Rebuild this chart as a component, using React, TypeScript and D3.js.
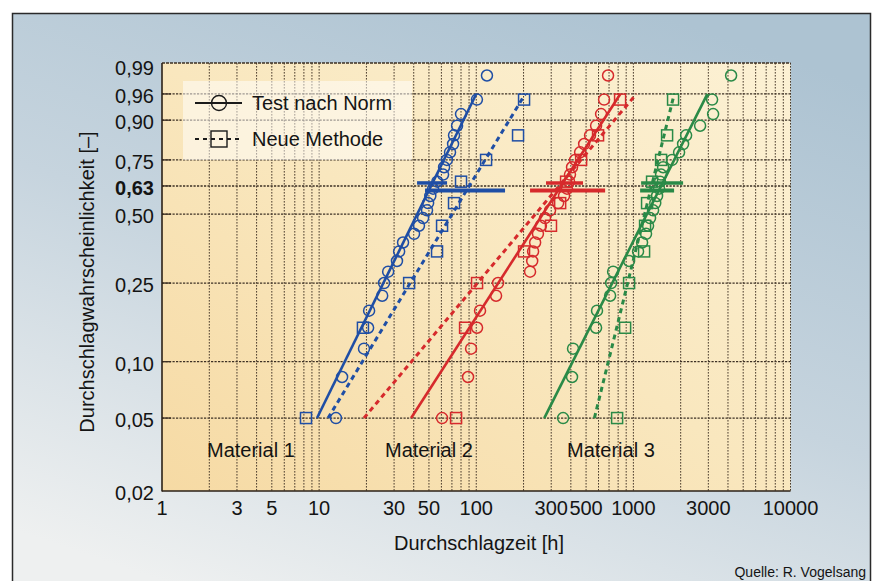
import React from 'react';
import * as d3 from 'd3';

// ---------- axis ticks ----------
const xTickValues = [1, 3, 5, 10, 30, 50, 100, 300, 500, 1000, 3000, 10000];
const xTickLabels = ['1', '3', '5', '10', '30', '50', '100', '300', '500', '1000', '3000', '10000'];
const yTickValues = [0.02, 0.05, 0.1, 0.25, 0.5, 0.63, 0.75, 0.9, 0.96, 0.99];
const yTickLabels = ['0,02', '0,05', '0,10', '0,25', '0,50', '0,63', '0,75', '0,90', '0,96', '0,99'];
const yGridValues = [0.05, 0.1, 0.25, 0.5, 0.63, 0.75, 0.9, 0.96];

// ---------- plotting positions (probability) ----------
const circleProb = [0.05, 0.083, 0.117, 0.15, 0.183, 0.217, 0.25, 0.283, 0.317, 0.35, 0.383, 0.417, 0.45, 0.483, 0.517, 0.55, 0.583, 0.617, 0.65, 0.683, 0.717, 0.75, 0.783, 0.817, 0.85, 0.883, 0.917, 0.95, 0.983];
const squareProb = [0.05, 0.15, 0.25, 0.35, 0.45, 0.55, 0.65, 0.75, 0.85, 0.95];

// ---------- breakdown times [h] ----------
const m1Circles = [12.8, 14.0, 19.3, 20.5, 20.8, 25.2, 25.9, 27.5, 31.3, 32.3, 34.2, 40.2, 43.2, 45.9, 48.6, 49.4, 51.0, 53.1, 56.5, 61.5, 62.4, 65.0, 68.1, 71.2, 72.2, 75.5, 80.0, 101, 117];
const m1Squares = [8.25, 19.0, 37.4, 56.3, 60.6, 72.2, 80.0, 115.5, 184.5, 201.5];
const m2Circles = [60.6, 88.7, 92.7, 101.2, 105.7, 133.7, 137.7, 220, 227, 230, 237, 247, 258, 274, 295, 332, 362, 378, 390, 395, 407, 426, 458, 486, 530, 579, 623, 651, 690];
const m2Squares = [74.4, 84.9, 101.2, 201.5, 299, 342, 373, 465, 596, 823];
const m3Circles = [357, 407, 413, 579, 587, 711, 722, 743, 939, 1071, 1136, 1204, 1240, 1277, 1335, 1378, 1415, 1457, 1479, 1501, 1546, 1763, 1954, 2072, 2166, 2659, 3217, 3170, 4188];
const m3Squares = [788, 886, 939, 1170, 1187, 1222, 1315, 1501, 1639, 1789];

// fitted Weibull lines: times at F = 0.05 and F = 0.96
const fitProb = [0.05, 0.96];
const m1SolidFit = [9.7, 100];
const m1DashedFit = [11.4, 205];
const m2SolidFit = [38.5, 826];
const m2DashedFit = [19.3, 1045];
const m3SolidFit = [271, 2960];
const m3DashedFit = [565, 1820];

// confidence bars at 63 %
const barProb = 0.63;
const m1SolidBar = [47.2, 152.5];
const m1DashedBar = [42.0, 65.2];
const m2SolidBar = [220, 661];
const m2DashedBar = [278, 478];
const m3SolidBar = [1104, 1816];
const m3DashedBar = [1120, 2072];

const materialLabels = ['Material 1', 'Material 2', 'Material 3'];
const legendLabels = ['Test nach Norm', 'Neue Methode'];

const BLUE = '#1f4ea5';
const RED = '#d62a2c';
const GREEN = '#2a8a47';

const series = [
  { color: BLUE, circles: m1Circles, squares: m1Squares, solid: m1SolidFit, dashed: m1DashedFit, solidBar: m1SolidBar, dashedBar: m1DashedBar },
  { color: RED, circles: m2Circles, squares: m2Squares, solid: m2SolidFit, dashed: m2DashedFit, solidBar: m2SolidBar, dashedBar: m2DashedBar },
  { color: GREEN, circles: m3Circles, squares: m3Squares, solid: m3SolidFit, dashed: m3DashedFit, solidBar: m3SolidBar, dashedBar: m3DashedBar },
];

const FONT = '"Liberation Sans", Arial, Helvetica, sans-serif';

export default function App() {
  const wb = (p: number) => Math.log(-Math.log(1 - p));
  const x = d3.scaleLog().domain([1, 10000]).range([162, 790.5]);
  const yW = d3.scaleLinear().domain([wb(0.02), wb(0.9916)]).range([491, 63]);
  const y = (p: number) => yW(wb(p));
  const left = 162, right = 790.5, top = 63, bottom = 491;

  const gridX: number[] = [];
  for (let d = 1; d < 10000; d *= 10) for (let k = 2; k <= 10; k++) gridX.push(d * k);

  const line = d3.line<[number, number]>().x(d => x(d[0])).y(d => y(d[1]));

  return (
    <svg width={875} height={581} style={{ position: 'absolute', left: 0, top: 0 }} fontFamily={FONT}>
      <defs>
        <linearGradient id="bg" x1="0.75" y1="0" x2="0.25" y2="1">
          <stop offset="0" stopColor="#adc3d2" />
          <stop offset="0.5" stopColor="#c6d4de" />
          <stop offset="1" stopColor="#eef0f0" />
        </linearGradient>
        <linearGradient id="plotbg" x1="1" y1="0" x2="0" y2="1">
          <stop offset="0" stopColor="#fcf1d4" />
          <stop offset="0.5" stopColor="#f9e7be" />
          <stop offset="1" stopColor="#f6daa4" />
        </linearGradient>
      </defs>
      <rect x={0} y={0} width={875} height={581} fill="#ffffff" />
      <rect x={12.5} y={13.5} width={858} height={590} fill="url(#bg)" stroke="#2a2a2a" strokeWidth={1.5} />
      <rect x={left} y={top} width={right - left} height={bottom - top} fill="url(#plotbg)" />

      {/* vertical grid */}
      {gridX.map((v, i) => (
        <line key={'gx' + i} x1={x(v)} x2={x(v)} y1={top} y2={bottom} stroke="#4a3b2c" strokeWidth={1} strokeDasharray="1.6,1.4" />
      ))}
      {/* horizontal grid */}
      {yGridValues.map((p, i) => (
        <g key={'gy' + i}>
          <line x1={left} x2={right} y1={y(p)} y2={y(p)} stroke="#3d3024" strokeWidth={p === 0.63 ? 1.6 : 1.2} strokeDasharray="2.2,1.3" />
          <line x1={left} x2={left + 9} y1={y(p)} y2={y(p)} stroke="#3d3024" strokeWidth={1.3} />
        </g>
      ))}
      <line x1={left} x2={right} y1={top} y2={top} stroke="#3d3024" strokeWidth={1.3} strokeDasharray="3,1" />

      {/* legend box */}
      <rect x={183} y={81} width={229} height={79} fill="#ffffff" fillOpacity={0.5} />
      <line x1={195} x2={242} y1={103} y2={103} stroke="#1a1a1a" strokeWidth={2} />
      <circle cx={219} cy={103} r={7.5} fill="none" stroke="#1a1a1a" strokeWidth={1.4} />
      <text x={252} y={103} dy="0.36em" fontSize={20} fill="#141414">{legendLabels[0]}</text>
      <line x1={195} x2={242} y1={139} y2={139} stroke="#1a1a1a" strokeWidth={2} strokeDasharray="4,4" />
      <rect x={211} y={131} width={16} height={16} fill="none" stroke="#1a1a1a" strokeWidth={1.4} />
      <text x={252} y={139} dy="0.36em" fontSize={20} fill="#141414">{legendLabels[1]}</text>

      {/* series */}
      {series.map((s, si) => (
        <g key={'s' + si}>
          <path d={line([[s.solid[0], fitProb[0]], [s.solid[1], fitProb[1]]]) || ''} stroke={s.color} strokeWidth={2.6} fill="none" />
          <path d={line([[s.dashed[0], fitProb[0]], [s.dashed[1], fitProb[1]]]) || ''} stroke={s.color} strokeWidth={3} fill="none" strokeDasharray="5,4" />
          <line x1={x(s.dashedBar[0])} x2={x(s.dashedBar[1])} y1={y(barProb) - 3} y2={y(barProb) - 3} stroke={s.color} strokeWidth={3.5} />
          <line x1={x(s.solidBar[0])} x2={x(s.solidBar[1])} y1={y(barProb) + 4.5} y2={y(barProb) + 4.5} stroke={s.color} strokeWidth={4} />
          {s.circles.map((t, i) => (
            <circle key={'c' + i} cx={x(t)} cy={y(circleProb[i])} r={5.5} fill="none" stroke={s.color} strokeWidth={1.5} />
          ))}
          {s.squares.map((t, i) => (
            <rect key={'q' + i} x={x(t) - 5.5} y={y(squareProb[i]) - 5.5} width={11} height={11} fill="none" stroke={s.color} strokeWidth={1.5} />
          ))}
        </g>
      ))}

      {/* axes */}
      <line x1={left} x2={left} y1={top} y2={bottom + 0.5} stroke="#2b2117" strokeWidth={1.6} />
      <line x1={left} x2={right} y1={bottom} y2={bottom} stroke="#2b2117" strokeWidth={1.6} />

      {/* material labels */}
      {materialLabels.map((m, i) => (
        <text key={'m' + i} x={[207, 385, 567][i]} y={450} dy="0.36em" fontSize={20} fill="#141414">{m}</text>
      ))}

      {/* tick labels */}
      {xTickValues.map((v, i) => (
        <text key={'xt' + i} x={x(v)} y={508} dy="0.36em" textAnchor="middle" fontSize={20} fill="#141414">{xTickLabels[i]}</text>
      ))}
      {yTickValues.map((p, i) => (
        <text key={'yt' + i} x={154} y={y(p) + 2} dy="0.36em" textAnchor="end" fontSize={20} fontWeight={p === 0.63 ? 'bold' : 'normal'} fill="#141414">{yTickLabels[i]}</text>
      ))}

      {/* axis titles */}
      <text x={479} y={543} dy="0.36em" textAnchor="middle" fontSize={20} fill="#141414">Durchschlagzeit [h]</text>
      <text transform="translate(87,282) rotate(-90)" dy="0.36em" textAnchor="middle" fontSize={20} fill="#141414">Durchschlagwahrscheinlichkeit [–]</text>
      <text x={866} y={572} dy="0.36em" textAnchor="end" fontSize={14} fill="#141414">Quelle: R. Vogelsang</text>
    </svg>
  );
}
